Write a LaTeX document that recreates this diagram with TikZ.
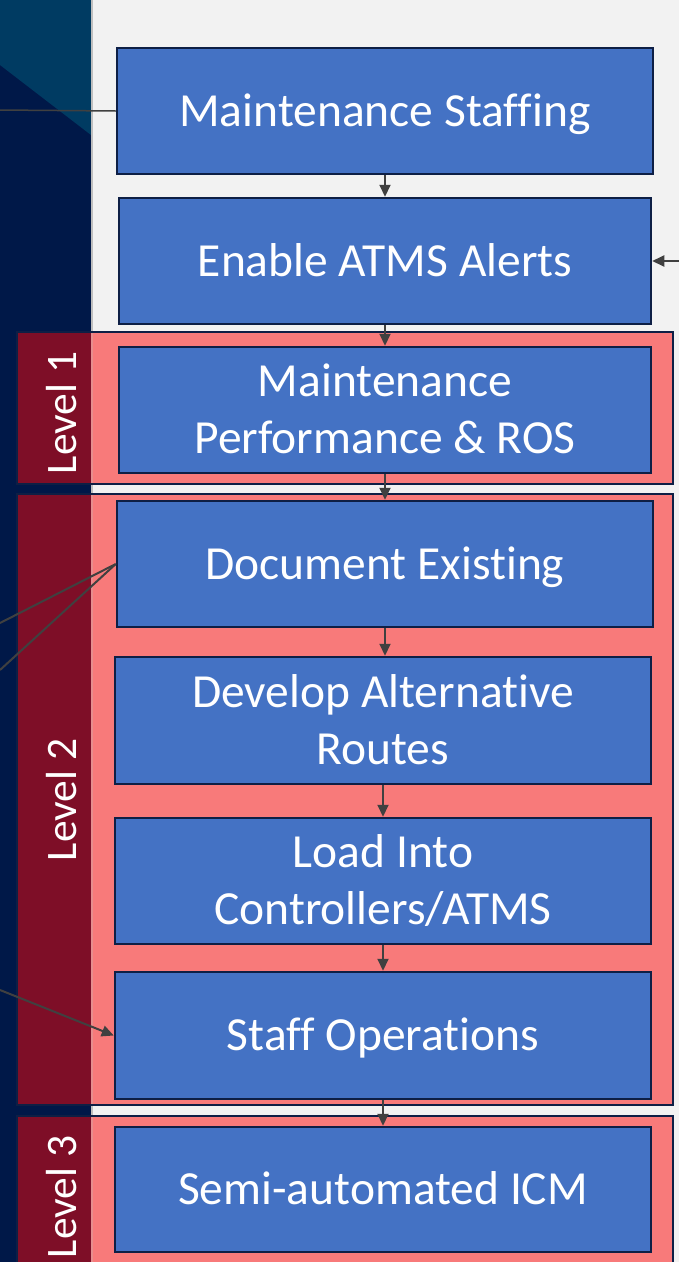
\documentclass[tikz,border=0pt]{standalone}
\usepackage{fontspec}
\setmainfont{Carlito}[Ligatures=CommonOff]
\usetikzlibrary{arrows.meta}
\definecolor{navy}{HTML}{001848}
\definecolor{teal}{HTML}{003B62}
\definecolor{bgray}{HTML}{F2F2F2}
\definecolor{boxblue}{HTML}{4472C4}
\definecolor{edge}{HTML}{0E1F45}
\definecolor{salmon}{HTML}{F87A7A}
\definecolor{lvlred}{HTML}{7E0E27}
\definecolor{conn}{HTML}{404040}
\definecolor{sepgray}{HTML}{BFBFBF}
\begin{document}
\begin{tikzpicture}[x=1pt,y=-1pt,
  stepbox/.style={draw=edge, line width=2.5pt, fill=boxblue, text=white, align=center,
    font=\fontsize{47.5}{57}\selectfont, inner sep=0pt, text height=30.5pt, text depth=0pt},
  twoline/.style={text height=87.5pt, text depth=0pt},
  bandfill/.style={fill=salmon},
  bandedge/.style={draw=edge, line width=2pt},
  lvlbox/.style={fill=lvlred},
  lvltext/.style={text=white, rotate=90, font=\fontsize{43.5}{52}\selectfont, inner sep=0pt,
    text height=28pt, text depth=0pt},
  flow/.style={draw=conn, line width=2pt, -{Triangle[length=12pt,width=11pt]}},
  plain/.style={draw=conn, line width=1.5pt}]
\useasboundingbox (0,0) rectangle (679,1262);
% backgrounds
\fill[bgray] (0,0) rectangle (679,1262);
\fill[navy] (0,0) rectangle (91,1262);
\fill[teal] (0,0) -- (91,0) -- (91,135) -- (0,65) -- cycle;
\fill[sepgray] (91,0) rectangle (93,1262);
% level bands
\fill[bandfill] (17,332) rectangle (673,484);
\fill[lvlbox] (17,332) rectangle (91,484);
\fill[bandfill] (17,494) rectangle (673,1105);
\fill[lvlbox] (17,494) rectangle (91,1105);
\fill[bandfill] (17,1116) rectangle (673,1275);
\fill[lvlbox] (17,1116) rectangle (91,1275);
\fill[sepgray, opacity=0.3] (91,332) rectangle (93,484);
\fill[sepgray, opacity=0.3] (91,494) rectangle (93,1105);
\fill[sepgray, opacity=0.3] (91,1116) rectangle (93,1275);
\draw[bandedge] (17,332) rectangle (673,484);
\draw[bandedge] (17,494) rectangle (673,1105);
\draw[bandedge] (17,1116) rectangle (673,1275);
\node[lvltext] (lv1) at (62,413) {Level 1};
\node[lvltext] (lv2) at (62,800) {Level 2};
\node[lvltext] (lv3) at (62,1197) {Level 3};
% boxes
\node[stepbox, minimum width=536, minimum height=126] (b1) at (385,111) {Maintenance Staffing};
\node[stepbox, minimum width=532, minimum height=126] (b2) at (385,261) {Enable ATMS Alerts};
\node[stepbox, twoline, minimum width=532, minimum height=126] (b3) at (385,410) {Maintenance\\Performance \& ROS};
\node[stepbox, minimum width=536, minimum height=126] (b4) at (385,564) {Document Existing};
\node[stepbox, twoline, minimum width=536, minimum height=127] (b5) at (383,720.5) {Develop Alternative\\Routes};
\node[stepbox, twoline, minimum width=536, minimum height=126] (b6) at (383,881) {Load Into\\Controllers/ATMS};
\node[stepbox, minimum width=536, minimum height=127] (b7) at (383,1035.5) {Staff Operations};
\node[stepbox, minimum width=536, minimum height=125] (b8) at (383,1189.5) {Semi-automated ICM};
% flow arrows
\draw[flow] (b1.south) -- (b1.south |- b2.north);
\draw[flow] (b2.south) -- (b2.south |- b3.north);
\draw[flow] (b3.south) -- (b3.south |- b4.north);
\draw[flow] (b4.south) -- (b4.south |- b5.north);
\draw[flow] (b5.south) -- (b5.south |- b6.north);
\draw[flow] (b6.south) -- (b6.south |- b7.north);
\draw[flow] (b7.south) -- (b7.south |- b8.north);
% outside connectors
\coordinate (l1) at (0,110);
\coordinate (l2) at (0,623);
\coordinate (l3) at (0,670);
\coordinate (l4) at (0,990);
\coordinate (r1) at (679,261);
\draw[plain] (l1) -- (b1.west);
\draw[plain, line width=2pt] (l2) -- (b4.west);
\draw[plain, line width=2pt] (l3) -- (b4.west);
\draw[flow] (l4) -- (b7.west);
\draw[flow] (r1) -- (b2.east);
\end{tikzpicture}
\end{document}
